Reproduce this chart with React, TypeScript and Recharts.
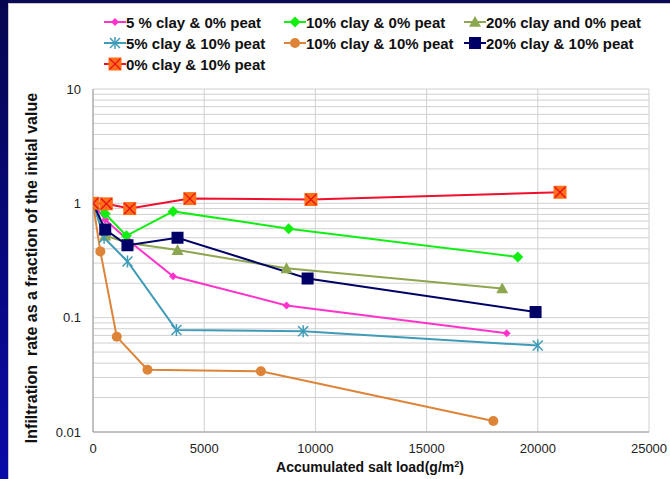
import React from 'react';
import { LineChart, Line, XAxis, YAxis, CartesianGrid } from 'recharts';

// Accumulated salt load (g/m2) and infiltration rate fraction
const load5c0p = [0, 550, 1550, 3600, 8700, 18600];
const rate5c0p = [1, 0.72, 0.48, 0.23, 0.128, 0.073];

const load10c0p = [0, 550, 1500, 3600, 8800, 19100];
const rate10c0p = [1, 0.81, 0.52, 0.85, 0.6, 0.34];

const load20c0p = [0, 550, 1600, 3800, 8700, 18400];
const rate20c0p = [1, 0.52, 0.45, 0.39, 0.27, 0.18];

const load5c10p = [0, 500, 1550, 3750, 9450, 20000];
const rate5c10p = [1, 0.5, 0.31, 0.078, 0.076, 0.057];

const load10c10p = [0, 330, 1070, 2450, 7550, 18000];
const rate10c10p = [1, 0.38, 0.068, 0.035, 0.034, 0.0125];

const load20c10p = [0, 550, 1550, 3800, 9650, 19900];
const rate20c10p = [1, 0.59, 0.43, 0.5, 0.22, 0.112];

const load0c10p = [0, 600, 1650, 4350, 9800, 21000];
const rate0c10p = [1, 0.99, 0.9, 1.1, 1.08, 1.25];

const xTicks = [0, 5000, 10000, 15000, 20000, 25000];
const yTicks = [0.01, 0.1, 1, 10];
const yMinor = [
  0.02, 0.03, 0.04, 0.05, 0.06, 0.07, 0.08, 0.09,
  0.2, 0.3, 0.4, 0.5, 0.6, 0.7, 0.8, 0.9,
  2, 3, 4, 5, 6, 7, 8, 9,
];

const X_MAX = 25000;
const Y_MIN = 0.01;
const Y_MAX = 10;

const zip = (xs: number[], ys: number[]) => xs.map((x, i) => ({ x, y: ys[i] }));

type Shape = 'smallDiamond' | 'diamond' | 'triangle' | 'star' | 'circle' | 'square' | 'xsquare';

const marker = (shape: Shape, color: string, cx: number, cy: number, key?: any) => {
  switch (shape) {
    case 'smallDiamond': {
      const s = 4;
      return <path key={key} d={`M${cx},${cy - s}L${cx + s},${cy}L${cx},${cy + s}L${cx - s},${cy}Z`} fill={color} />;
    }
    case 'diamond': {
      const s = 5.5;
      return <path key={key} d={`M${cx},${cy - s}L${cx + s},${cy}L${cx},${cy + s}L${cx - s},${cy}Z`} fill={color} />;
    }
    case 'triangle': {
      const s = 6;
      return <path key={key} d={`M${cx},${cy - s}L${cx + s},${cy + s * 0.8}L${cx - s},${cy + s * 0.8}Z`} fill={color} />;
    }
    case 'star': {
      const s = 5;
      return (
        <g key={key} stroke={color} strokeWidth={1.5}>
          <line x1={cx - s} y1={cy - s} x2={cx + s} y2={cy + s} />
          <line x1={cx - s} y1={cy + s} x2={cx + s} y2={cy - s} />
          <line x1={cx} y1={cy - s - 1} x2={cx} y2={cy + s + 1} />
        </g>
      );
    }
    case 'circle':
      return <circle key={key} cx={cx} cy={cy} r={5} fill={color} />;
    case 'square':
      return <rect key={key} x={cx - 6} y={cy - 6} width={12} height={12} fill={color} />;
    case 'xsquare':
      return (
        <g key={key}>
          <rect x={cx - 6.5} y={cy - 6.5} width={13} height={13} fill="#ff7019" />
          <line x1={cx - 5.5} y1={cy - 5.5} x2={cx + 5.5} y2={cy + 5.5} stroke="#e8101a" strokeWidth={1.3} />
          <line x1={cx - 5.5} y1={cy + 5.5} x2={cx + 5.5} y2={cy - 5.5} stroke="#e8101a" strokeWidth={1.3} />
        </g>
      );
  }
};

const series: { name: string; data: { x: number; y: number }[]; color: string; shape: Shape }[] = [
  { name: '5 % clay & 0% peat', data: zip(load5c0p, rate5c0p), color: '#ff33cc', shape: 'smallDiamond' },
  { name: '10% clay & 0% peat', data: zip(load10c0p, rate10c0p), color: '#11ee11', shape: 'diamond' },
  { name: '20% clay and 0% peat', data: zip(load20c0p, rate20c0p), color: '#8da650', shape: 'triangle' },
  { name: '5% clay & 10% peat', data: zip(load5c10p, rate5c10p), color: '#3f9bb8', shape: 'star' },
  { name: '10% clay & 10% peat', data: zip(load10c10p, rate10c10p), color: '#de8438', shape: 'circle' },
  { name: '20% clay & 10% peat', data: zip(load20c10p, rate20c10p), color: '#000066', shape: 'square' },
  { name: '0% clay & 10% peat', data: zip(load0c10p, rate0c10p), color: '#f0102e', shape: 'xsquare' },
];

const font = '"Liberation Sans", Arial, sans-serif';

// grid positions through the axis scale when available, otherwise through the same log/linear mapping
const hGrid = (props: any) => {
  const scale = props?.yAxis?.scale;
  const off = props.offset;
  return [...yTicks, ...yMinor].map((v) =>
    typeof scale === 'function'
      ? scale(v)
      : off.top + (off.height * (Math.log10(Y_MAX) - Math.log10(v))) / (Math.log10(Y_MAX) - Math.log10(Y_MIN))
  );
};
const vGrid = (props: any) => {
  const scale = props?.xAxis?.scale;
  const off = props.offset;
  return xTicks.map((v) => (typeof scale === 'function' ? scale(v) : off.left + (off.width * v) / X_MAX));
};

const LegendItem = ({ s }: { s: (typeof series)[number] }) => (
  <div style={{ display: 'flex', alignItems: 'center', height: 20 }}>
    <svg width={22} height={14}>
      <line x1={0} y1={7} x2={22} y2={7} stroke={s.color} strokeWidth={2} />
      {marker(s.shape, s.color, 11, 7)}
    </svg>
    <span>{s.name}</span>
  </div>
);

export default function App() {
  return (
    <div style={{ position: 'absolute', left: 0, top: 0, width: 670, height: 479, background: '#ffffff', overflow: 'hidden', fontFamily: font }}>
      <div style={{ position: 'absolute', left: 0, top: 0, width: 670, height: 3, background: '#0a0a5a' }} />
      <div style={{ position: 'absolute', left: 0, top: 0, width: 8, height: 479, background: 'linear-gradient(#06064f, #0a0aa8)' }} />
      <div style={{ position: 'absolute', left: 8, top: 3, width: 662, height: 476, borderLeft: '1px solid #c8c8c8', borderTop: '1px solid #c8c8c8', boxSizing: 'border-box' }} />

      <LineChart width={670} height={479} margin={{ top: 89, right: 21, left: 33, bottom: 17 }} style={{ position: 'absolute', left: 0, top: 0 }}>
        <CartesianGrid
          stroke="#d0d0d0"
          strokeWidth={1}
          horizontalCoordinatesGenerator={hGrid}
          verticalCoordinatesGenerator={vGrid}
        />
        <XAxis
          dataKey="x"
          type="number"
          domain={[0, X_MAX]}
          ticks={xTicks}
          allowDataOverflow
          stroke="#9a9a9a"
          tickLine={false}
          tickSize={0}
          tickMargin={12}
          tick={{ fill: '#222', fontSize: 13, fontFamily: font }}
          height={30}
        />
        <YAxis
          type="number"
          scale="log"
          domain={[Y_MIN, Y_MAX]}
          ticks={yTicks}
          allowDataOverflow
          stroke="#9a9a9a"
          tickLine={false}
          tickSize={0}
          tickMargin={12}
          tickFormatter={(v: number) => String(v)}
          tick={{ fill: '#222', fontSize: 13, fontFamily: font }}
          width={60}
        />
        {series.map((s) => (
          <Line
            key={s.name}
            data={s.data}
            dataKey="y"
            name={s.name}
            stroke={s.color}
            strokeWidth={2}
            isAnimationActive={false}
            dot={(p: any) => marker(s.shape, s.color, p.cx, p.cy, `${s.name}-${p.index}`) as any}
            activeDot={false}
          />
        ))}
      </LineChart>

      <div style={{ position: 'absolute', left: 104, top: 12, display: 'grid', gridTemplateColumns: '180px 180px 180px', rowGap: 1, fontSize: 15, fontWeight: 'bold', color: '#111' }}>
        {series.map((s) => (
          <LegendItem key={s.name} s={s} />
        ))}
      </div>

      <div style={{ position: 'absolute', left: 32, top: 268, transform: 'translate(-50%, -50%) rotate(-90deg)', whiteSpace: 'pre', fontSize: 16, fontWeight: 'bold', color: '#111' }}>
        {'Infiltration  rate as a fraction of the intial value'}
      </div>
      <div style={{ position: 'absolute', left: 370, top: 467, transform: 'translate(-50%, -50%)', whiteSpace: 'nowrap', fontSize: 14, fontWeight: 'bold', color: '#111' }}>
        Accumulated salt load(g/m<sup style={{ fontSize: 9 }}>2</sup>)
      </div>
    </div>
  );
}
